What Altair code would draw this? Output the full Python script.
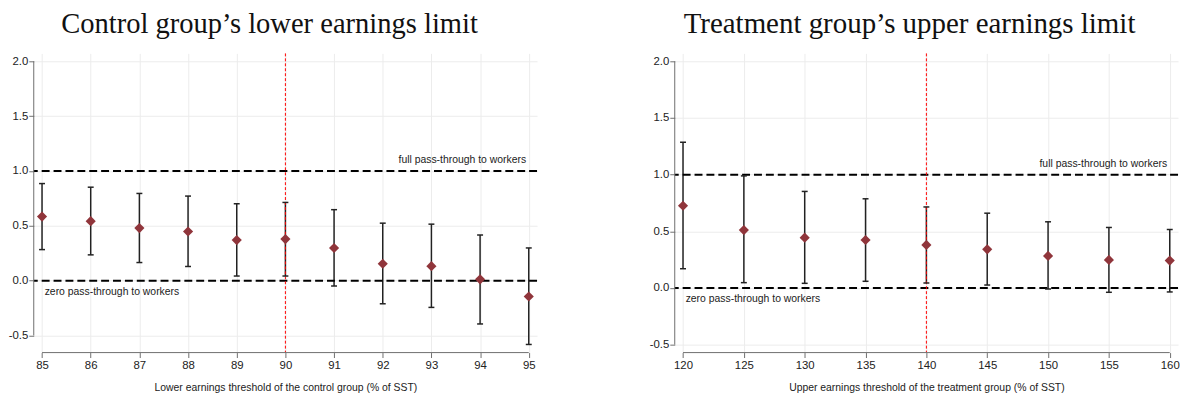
import altair as alt
import pandas as pd

# ---- data ----
left_x = [85, 86, 87, 88, 89, 90, 91, 92, 93, 94, 95]
left_est = [0.584, 0.542, 0.479, 0.448, 0.370, 0.379, 0.298, 0.154, 0.132, 0.012, -0.145]
left_lo = [0.283, 0.235, 0.165, 0.129, 0.042, 0.042, -0.049, -0.211, -0.244, -0.395, -0.582]
left_hi = [0.885, 0.852, 0.795, 0.771, 0.701, 0.713, 0.647, 0.524, 0.515, 0.416, 0.298]

right_x = [120, 125, 130, 135, 140, 145, 150, 155, 160]
right_est = [0.726, 0.511, 0.444, 0.423, 0.380, 0.341, 0.283, 0.248, 0.242]
right_lo = [0.170, 0.047, 0.041, 0.059, 0.044, 0.026, -0.009, -0.038, -0.035]
right_hi = [1.286, 0.989, 0.852, 0.787, 0.715, 0.660, 0.584, 0.534, 0.516]

y_ticks = [-0.5, 0.0, 0.5, 1.0, 1.5, 2.0]
ref_values = [0.0, 1.0]
ref_labels = ["zero pass-through to workers", "full pass-through to workers"]

left_title = "Control group’s lower earnings limit"
right_title = "Treatment group’s upper earnings limit"
left_xtitle = "Lower earnings threshold of the control group (% of SST)"
right_xtitle = "Upper earnings threshold of the treatment group (% of SST)"
left_cutoff = 90
right_cutoff = 140

W, H = 508, 302
SANS = "Liberation Sans"
AXIS_GRAY = "#6e6e6e"
TXT = "#222222"


def panel(xs, est, lo, hi, x_domain, y_domain, cutoff, title, xtitle, title_dx, title_size):
    df = pd.DataFrame({"x": xs, "est": est, "lo": lo, "hi": hi})
    xscale = alt.Scale(domain=x_domain, nice=False, zero=False)
    yscale = alt.Scale(domain=y_domain, nice=False, zero=False)
    xaxis = alt.Axis(values=xs, title=xtitle, domain=False, grid=True,
                     gridColor="#ececec", gridWidth=1, tickColor=AXIS_GRAY,
                     tickSize=5, labelFontSize=11.5, labelPadding=2,
                     labelColor=TXT, labelFont=SANS, titleFont=SANS,
                     titleFontSize=10.5, titleFontWeight="normal",
                     titleColor=TXT, titlePadding=12, labelFlush=False)
    yaxis = alt.Axis(values=y_ticks, title=None, domain=False, grid=True,
                     gridColor="#ececec", gridWidth=1, tickColor=AXIS_GRAY,
                     tickSize=5, labelFontSize=11.5, labelPadding=1,
                     labelColor=TXT, labelFont=SANS,
                     labelExpr="replace(format(datum.value, '.1f'), '−', '-')")

    bars = alt.Chart(df).mark_rule(color=TXT, strokeWidth=1.5).encode(
        x=alt.X("x:Q", scale=xscale, axis=xaxis),
        y=alt.Y("lo:Q", scale=yscale, axis=yaxis),
        y2="hi:Q",
    )
    cap_lo = alt.Chart(df).mark_tick(orient="horizontal", size=6, thickness=1.5,
                                     color=TXT, opacity=1).encode(x="x:Q", y="lo:Q")
    cap_hi = alt.Chart(df).mark_tick(orient="horizontal", size=6, thickness=1.5,
                                     color=TXT, opacity=1).encode(x="x:Q", y="hi:Q")
    pts = alt.Chart(df).mark_point(shape="diamond", filled=True, size=105,
                                   color="#90353B", opacity=1).encode(x="x:Q", y="est:Q")

    ref_df = pd.DataFrame({"v": ref_values, "t": ref_labels})
    refs = alt.Chart(ref_df).mark_rule(color="black", strokeWidth=2,
                                       strokeDash=[8, 4]).encode(y="v:Q")
    full_lbl = alt.Chart(ref_df).transform_filter("datum.v == 1").mark_text(
        align="right", baseline="middle", dy=-11, fontSize=10.5, font=SANS, color=TXT
    ).encode(x=alt.value(W - 11), y="v:Q", text="t:N")
    zero_lbl = alt.Chart(ref_df).transform_filter("datum.v == 0").mark_text(
        align="left", baseline="middle", dy=11, fontSize=10.5, font=SANS, color=TXT
    ).encode(x=alt.value(11), y="v:Q", text="t:N")

    cut = alt.Chart(pd.DataFrame({"c": [cutoff]})).mark_rule(
        color="#ff0000", strokeWidth=1, strokeDash=[3, 2]).encode(x="c:Q")

    yline = alt.Chart(pd.DataFrame({"a": [min(y_ticks)], "b": [max(y_ticks)]})).mark_rule(
        color=AXIS_GRAY, strokeWidth=1).encode(x=alt.value(0), y="a:Q", y2="b:Q")
    xline = alt.Chart(pd.DataFrame({"a": [min(xs)], "b": [max(xs)]})).mark_rule(
        color=AXIS_GRAY, strokeWidth=1).encode(y=alt.value(H), x="a:Q", x2="b:Q")

    return alt.layer(bars, refs, cut, cap_lo, cap_hi, pts, full_lbl, zero_lbl, yline, xline).properties(
        width=W, height=H,
        title=alt.TitleParams(title, font="Liberation Serif", fontSize=title_size,
                              fontWeight="normal", color="#111111",
                              anchor="middle", frame="group", dx=title_dx,
                              baseline="alphabetic", offset=-9),
    )


left = panel(left_x, left_est, left_lo, left_hi, [84.83, 95.17], [-0.656, 2.072],
             left_cutoff, left_title, left_xtitle, -16, 28.8)
right = panel(right_x, right_est, right_lo, right_hi, [119.32, 160.68], [-0.57, 2.07],
              right_cutoff, right_title, right_xtitle, -17, 29.2)

chart = alt.hconcat(left, right, spacing=112).properties(
    padding={"left": 0, "top": 0, "right": 0, "bottom": 0}
).configure_view(stroke=None)

chart.save("out.html", embed_options={"renderer": "svg", "actions": False})
